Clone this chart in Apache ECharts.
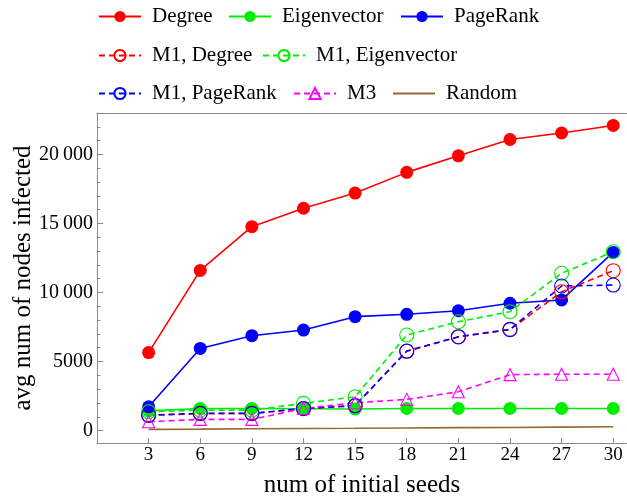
<!DOCTYPE html>
<html>
<head>
<meta charset="utf-8">
<script src="https://cdn.jsdelivr.net/npm/echarts@6/dist/echarts.min.js"></script>
<style>
  html, body { margin: 0; padding: 0; background: #fff; }
  #chart { width: 627px; height: 501px; }
</style>
</head>
<body>
<div id="chart"></div>
<script>
// Number of initial seeds (x) and average number of infected nodes (y)
const seeds = [3, 6, 9, 12, 15, 18, 21, 24, 27, 30];
const degree = [5650, 11600, 14770, 16100, 17200, 18700, 19900, 21080, 21550, 22100];
const eigenvector = [1430, 1600, 1600, 1580, 1560, 1600, 1600, 1600, 1600, 1600];
const pagerank = [1720, 5950, 6870, 7280, 8250, 8420, 8680, 9220, 9460, 12900];
const m1Degree = [1100, 1230, 1230, 1580, 1800, 5740, 6780, 7310, 10050, 11580];
const m1Eigenvector = [1360, 1480, 1480, 1970, 2450, 6920, 7880, 8610, 11390, 12950];
const m1PageRank = [1120, 1250, 1250, 1600, 1810, 5760, 6800, 7330, 10470, 10540];
const m3 = [640, 810, 810, 1600, 2010, 2260, 2810, 4050, 4080, 4080];
const random = [90, 105, 130, 150, 165, 190, 210, 225, 250, 275];

// Tick positions
const xTicks = [3, 6, 9, 12, 15, 18, 21, 24, 27, 30];
const yMajorTicks = [0, 5000, 10000, 15000, 20000];
const yMinorTicks = [1000, 2000, 3000, 4000, 6000, 7000, 8000, 9000, 11000, 12000, 13000, 14000,
                     16000, 17000, 18000, 19000, 21000, 22000];

const FONT = '"Liberation Serif", "Times New Roman", serif';
const AXIS_GRAY = '#8a8a8a';
const RED = '#ff0000', GREEN = '#00ee00', BLUE = '#0000ff', MAGENTA = '#ff00ff', BROWN = '#996633';

const pairs = ys => seeds.map((s, i) => [s, ys[i]]);

function solid(name, ys, color) {
  return {
    name, type: 'line', data: pairs(ys),
    symbol: 'circle', symbolSize: 13,
    lineStyle: { color, width: 1.6, type: 'solid' },
    itemStyle: { color, borderWidth: 0 }
  };
}
function dashed(name, ys, color, symbol, size) {
  return {
    name, type: 'line', data: pairs(ys),
    symbol, symbolSize: size,
    lineStyle: { color, width: 1.6, type: [6, 4] },
    itemStyle: { color: 'rgba(255,255,255,0)', borderColor: color, borderWidth: 1.1 }
  };
}

const series = [
  solid('Degree', degree, RED),
  solid('Eigenvector', eigenvector, GREEN),
  solid('PageRank', pagerank, BLUE),
  dashed('M1, Degree', m1Degree, RED, 'circle', 14),
  dashed('M1, Eigenvector', m1Eigenvector, GREEN, 'circle', 14),
  dashed('M1, PageRank', m1PageRank, BLUE, 'circle', 14),
  dashed('M3', m3, MAGENTA, 'triangle', 12),
  {
    name: 'Random', type: 'line', data: pairs(random), symbol: 'none',
    lineStyle: { color: BROWN, width: 1.6 }, itemStyle: { color: BROWN }
  }
].map(s => Object.assign(s, { xAxisIndex: 0, yAxisIndex: 0, emphasis: { disabled: true }, silent: true }));

// One legend block per entry, laid out in three rows
const legendSpots = [
  ['Degree', 98, 6], ['Eigenvector', 228, 6], ['PageRank', 400, 6],
  ['M1, Degree', 98, 45], ['M1, Eigenvector', 262, 45],
  ['M1, PageRank', 98, 83], ['M3', 293, 83], ['Random', 392, 83]
];
const legends = legendSpots.map(([name, left, top]) => {
  const lg = {
    data: [name], left, top, orient: 'horizontal',
    itemWidth: 42, itemHeight: 14, padding: 0, selectedMode: false,
    textStyle: { fontFamily: FONT, fontSize: 21, color: '#000', padding: [0, 0, 0, 6] }
  };
  // the plain line entry shows no marker
  if (name === 'Random') lg.itemStyle = { opacity: 0 };
  return lg;
});

const fmtY = v => {
  const s = String(v);
  return s.length > 4 ? s.slice(0, s.length - 3) + '\u2009' + s.slice(-3) : s;
};

const option = {
  animation: false,
  backgroundColor: '#fff',
  legend: legends,
  grid: { left: 97, right: 0, top: 113, bottom: 58, outerBoundsMode: 'none', containLabel: false },
  xAxis: [
    {
      type: 'value', min: 0, max: 30.8, position: 'bottom',
      axisLine: { show: true, onZero: false, lineStyle: { color: AXIS_GRAY, width: 1 } },
      axisTick: { show: true, inside: true, length: 5, customValues: xTicks, lineStyle: { color: AXIS_GRAY } },
      axisLabel: { customValues: xTicks, margin: 3, fontFamily: FONT, fontSize: 19, color: '#000' },
      splitLine: { show: false },
      name: 'num of initial seeds', nameLocation: 'middle', nameGap: 30, nameMoveOverlap: false,
      nameTextStyle: { fontFamily: FONT, fontSize: 25, color: '#000' }
    },
    {
      type: 'value', min: 0, max: 30.8, position: 'top',
      axisLine: { show: true, onZero: false, lineStyle: { color: AXIS_GRAY, width: 1 } },
      axisTick: { show: false }, axisLabel: { show: false }, splitLine: { show: false }
    }
  ],
  yAxis: [
    {
      type: 'value', min: -900, max: 23000, position: 'left',
      axisLine: { show: true, onZero: false, lineStyle: { color: AXIS_GRAY, width: 1 } },
      axisTick: { show: true, inside: true, length: 6, customValues: yMajorTicks, lineStyle: { color: AXIS_GRAY } },
      axisLabel: { customValues: yMajorTicks, formatter: fmtY, margin: 4, fontFamily: FONT, fontSize: 20, color: '#000' },
      splitLine: { show: false },
      name: 'avg num of nodes infected', nameLocation: 'middle', nameGap: 61, nameRotate: 90,
      nameMoveOverlap: false,
      nameTextStyle: { fontFamily: FONT, fontSize: 25, color: '#000' }
    },
    {
      type: 'value', min: -900, max: 23000, position: 'left', offset: 0,
      axisLine: { show: false },
      axisTick: { show: true, inside: true, length: 3.5, customValues: yMinorTicks, lineStyle: { color: AXIS_GRAY } },
      axisLabel: { show: false }, splitLine: { show: false }
    }
  ],
  series
};

const chart = echarts.init(document.getElementById('chart'), null, { renderer: 'canvas' });
chart.setOption(option);
</script>
</body>
</html>
